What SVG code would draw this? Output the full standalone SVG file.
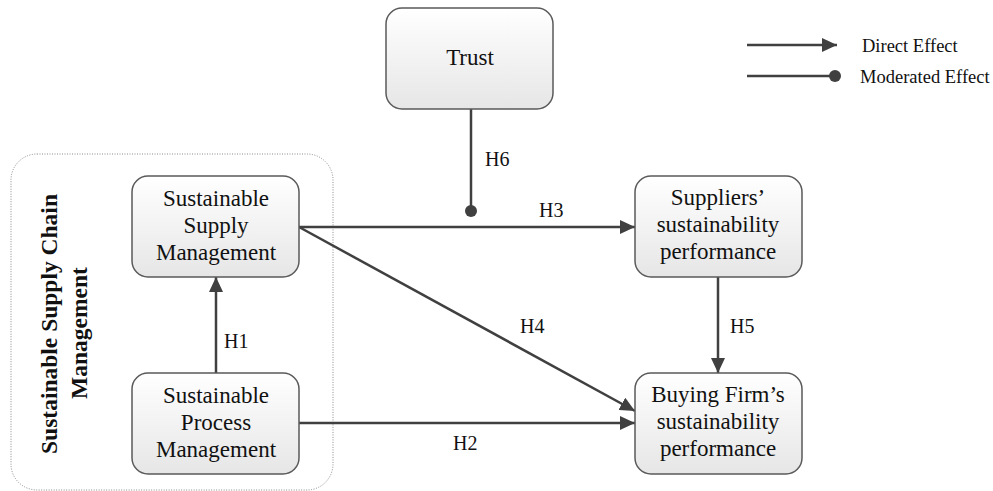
<svg xmlns="http://www.w3.org/2000/svg" width="993" height="491" viewBox="0 0 993 491">
  <style>
    .box { stroke: #5a5a5a; stroke-width: 1.5; fill: url(#boxFill); }
    .lbl { font-family: "Liberation Serif", "Times New Roman", serif; font-size: 23px; fill: #111; text-anchor: middle; }
    .hyp { font-family: "Liberation Serif", "Times New Roman", serif; font-size: 20px; fill: #111; }
    .leg { font-family: "Liberation Serif", "Times New Roman", serif; font-size: 18.5px; fill: #111; }
    .edge { stroke: #404040; stroke-width: 2.5; fill: none; }
    .group { font-family: "Liberation Serif", "Times New Roman", serif; font-size: 23.5px; font-weight: bold; fill: #111; text-anchor: middle; }
  </style>
  <defs>
    <linearGradient id="boxFill" x1="0" y1="0" x2="0" y2="1">
      <stop offset="0" stop-color="#ffffff"/>
      <stop offset="1" stop-color="#e6e6e6"/>
    </linearGradient>
    <marker id="arrow" markerUnits="userSpaceOnUse" markerWidth="16" markerHeight="14" viewBox="0 0 16 14" refX="15" refY="7" orient="auto">
      <path d="M0,0 L15,7 L0,14 z" fill="#404040"/>
    </marker>
    <marker id="dot" markerUnits="userSpaceOnUse" markerWidth="14" markerHeight="14" viewBox="0 0 14 14" refX="7" refY="7" orient="auto">
      <circle cx="7" cy="7" r="6" fill="#404040"/>
    </marker>
  </defs>

  <rect width="993" height="491" fill="#ffffff"/>

  <!-- Sustainable Supply Chain Management grouping -->
  <g id="sscm-group">
    <rect x="11" y="154" width="322" height="336" rx="26" ry="26" fill="none" stroke="#8a8a8a" stroke-width="1" stroke-dasharray="1 1.5"/>
    <text class="group" transform="translate(49,324) rotate(-90)" dominant-baseline="central">Sustainable Supply Chain</text>
    <text class="group" transform="translate(79,333) rotate(-90)" dominant-baseline="central">Management</text>
  </g>

  <!-- connectors -->
  <g id="connectors">
    <line class="edge" x1="471" y1="109" x2="471" y2="211" marker-end="url(#dot)"/>
    <line class="edge" x1="299" y1="227" x2="635" y2="227" marker-end="url(#arrow)"/>
    <line class="edge" x1="299" y1="227" x2="635" y2="411" marker-end="url(#arrow)"/>
    <line class="edge" x1="299" y1="423" x2="635" y2="423" marker-end="url(#arrow)"/>
    <line class="edge" x1="216" y1="373" x2="216" y2="277" marker-end="url(#arrow)"/>
    <line class="edge" x1="718" y1="277" x2="718" y2="373" marker-end="url(#arrow)"/>
    <text class="hyp" x="224" y="348">H1</text>
    <text class="hyp" x="485" y="166">H6</text>
    <text class="hyp" x="539" y="217">H3</text>
    <text class="hyp" x="520" y="333">H4</text>
    <text class="hyp" x="453" y="450">H2</text>
    <text class="hyp" x="730" y="333">H5</text>
  </g>

  <g id="trust">
    <rect class="box" x="386" y="8" width="167" height="101" rx="16" ry="16"/>
    <text class="lbl" x="470" y="65">Trust</text>
  </g>

  <g id="ssm">
    <rect class="box" x="132" y="176" width="167" height="101" rx="16" ry="16"/>
    <text class="lbl" x="216" y="206">Sustainable</text>
    <text class="lbl" x="216" y="233">Supply</text>
    <text class="lbl" x="216" y="260">Management</text>
  </g>

  <g id="spm">
    <rect class="box" x="132" y="373" width="167" height="101" rx="16" ry="16"/>
    <text class="lbl" x="216" y="403">Sustainable</text>
    <text class="lbl" x="216" y="430">Process</text>
    <text class="lbl" x="216" y="457">Management</text>
  </g>

  <g id="suppliers">
    <rect class="box" x="635" y="176" width="167" height="101" rx="16" ry="16"/>
    <text class="lbl" x="718" y="205">Suppliers’</text>
    <text class="lbl" x="718" y="232">sustainability</text>
    <text class="lbl" x="718" y="259">performance</text>
  </g>

  <g id="buying">
    <rect class="box" x="635" y="373" width="167" height="101" rx="16" ry="16"/>
    <text class="lbl" x="718" y="402">Buying Firm’s</text>
    <text class="lbl" x="718" y="429">sustainability</text>
    <text class="lbl" x="718" y="456">performance</text>
  </g>

  <!-- legend -->
  <g id="legend">
    <line class="edge" x1="747" y1="45" x2="837" y2="45" marker-end="url(#arrow)"/>
    <text class="leg" x="862" y="52">Direct Effect</text>
    <line class="edge" x1="747" y1="76" x2="835" y2="76" marker-end="url(#dot)"/>
    <text class="leg" x="860" y="83">Moderated Effect</text>
  </g>
</svg>
